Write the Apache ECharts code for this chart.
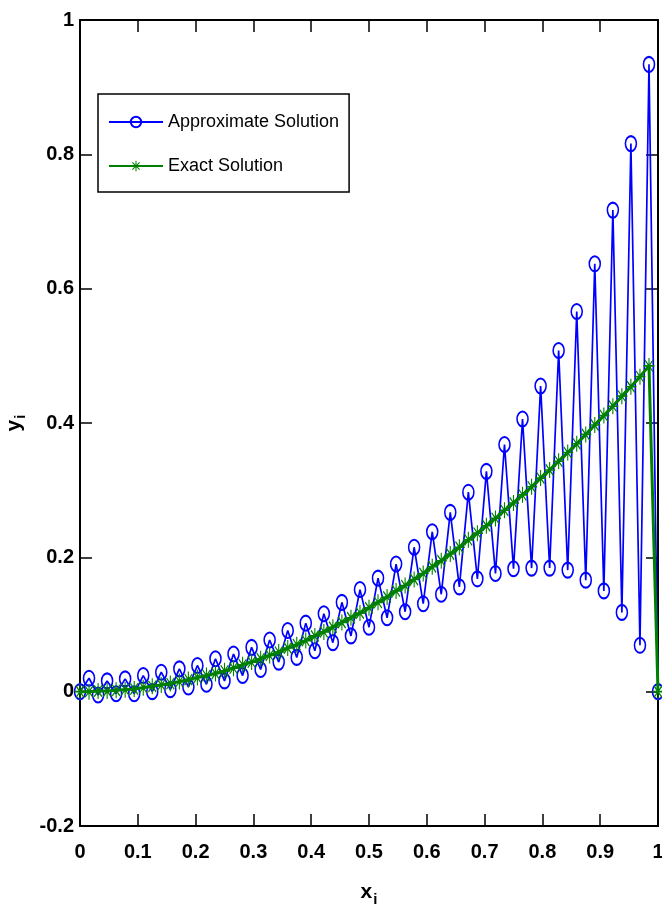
<!DOCTYPE html>
<html>
<head>
<meta charset="utf-8">
<script src="https://cdn.jsdelivr.net/npm/echarts@6/dist/echarts.min.js"></script>
<style>
html,body{margin:0;padding:0;background:#fff;}
#chart{width:662px;height:922px;}
</style>
</head>
<body>
<div id="chart"></div>
<script>
// Grid nodes x_i
const xNodes = [0, 0.0156, 0.0313, 0.0469, 0.0625, 0.0781, 0.0938, 0.1094, 0.125, 0.1406,
  0.1563, 0.1719, 0.1875, 0.2031, 0.2188, 0.2344, 0.25, 0.2656, 0.2813, 0.2969,
  0.3125, 0.3281, 0.3438, 0.3594, 0.375, 0.3906, 0.4063, 0.4219, 0.4375, 0.4531,
  0.4688, 0.4844, 0.5, 0.5156, 0.5313, 0.5469, 0.5625, 0.5781, 0.5938, 0.6094,
  0.625, 0.6406, 0.6563, 0.6719, 0.6875, 0.7031, 0.7188, 0.7344, 0.75, 0.7656,
  0.7813, 0.7969, 0.8125, 0.8281, 0.8438, 0.8594, 0.875, 0.8906, 0.9063, 0.9219,
  0.9375, 0.9531, 0.9688, 0.9844, 1];

// Approximate solution values
const approxValues = [0, 0.020, -0.005, 0.016, -0.003, 0.019, -0.003, 0.024, 0.000, 0.029,
  0.003, 0.034, 0.007, 0.039, 0.011, 0.049, 0.016, 0.056, 0.024, 0.066,
  0.033, 0.077, 0.044, 0.091, 0.051, 0.102, 0.061, 0.116, 0.073, 0.133,
  0.083, 0.152, 0.096, 0.169, 0.110, 0.190, 0.119, 0.215, 0.131, 0.238,
  0.145, 0.267, 0.156, 0.297, 0.168, 0.328, 0.176, 0.368, 0.183, 0.406,
  0.184, 0.455, 0.184, 0.508, 0.181, 0.566, 0.166, 0.637, 0.150, 0.717,
  0.118, 0.816, 0.069, 0.934, 0];

// Exact solution values
const exactValues = [0, 0.000, 0.001, 0.001, 0.002, 0.003, 0.004, 0.006, 0.008, 0.010,
  0.012, 0.015, 0.018, 0.021, 0.024, 0.027, 0.031, 0.035, 0.040, 0.044,
  0.049, 0.054, 0.059, 0.065, 0.070, 0.076, 0.083, 0.089, 0.096, 0.103,
  0.110, 0.117, 0.125, 0.133, 0.141, 0.150, 0.158, 0.167, 0.176, 0.186,
  0.195, 0.205, 0.215, 0.226, 0.236, 0.247, 0.258, 0.270, 0.281, 0.293,
  0.305, 0.318, 0.330, 0.343, 0.356, 0.369, 0.383, 0.397, 0.411, 0.425,
  0.440, 0.454, 0.469, 0.485, 0];

const xTicks = {min: 0, max: 1, interval: 0.1};
const yTicks = {min: -0.2, max: 1, interval: 0.2};
const seriesNames = ['Approximate Solution', 'Exact Solution'];

const FONT = '"Liberation Sans", Arial, sans-serif';

const asterisk = 'path://M9 0H11V20H9Z M0 9H20V11H0Z M2.3 3.7L3.7 2.3L17.7 16.3L16.3 17.7Z M16.3 2.3L17.7 3.7L3.7 17.7L2.3 16.3Z';

const approxData = xNodes.map((x, i) => [x, approxValues[i]]);
const exactData = xNodes.map((x, i) => [x, exactValues[i]]);

const axisLineStyle = {show: true, onZero: false, lineStyle: {color: '#000', width: 2}};
const tickStyle = {show: true, inside: true, length: 12, lineStyle: {color: '#000', width: 1.5}};
const labelStyle = {color: '#000', fontFamily: FONT, fontWeight: 'bold', fontSize: 20};

const nameStyle = {
  color: '#000', fontFamily: FONT, fontWeight: 'bold', fontSize: 21,
  rich: {
    a: {fontFamily: FONT, fontWeight: 'bold', fontSize: 21, color: '#000'},
    b: {fontFamily: FONT, fontWeight: 'bold', fontSize: 15, color: '#000', padding: [14, 0, 0, 1]}
  }
};

const chart = echarts.init(document.getElementById('chart'), null, {renderer: 'canvas'});
chart.setOption({
  backgroundColor: '#fff',
  animation: false,
  grid: {left: 80, right: 4, top: 20, bottom: 96, containLabel: false, outerBoundsMode: 'none'},
  legend: {
    left: 98, top: 94,
    orient: 'vertical',
    data: seriesNames,
    itemWidth: 54, itemHeight: 13, itemGap: 22,
    padding: [17, 10, 15, 10],
    borderColor: '#000', borderWidth: 1.5,
    backgroundColor: '#fff',
    textStyle: {color: '#000', fontFamily: FONT, fontSize: 18, lineHeight: 22}
  },
  xAxis: [{
    type: 'value', position: 'bottom',
    min: xTicks.min, max: xTicks.max, interval: xTicks.interval,
    axisLine: axisLineStyle, axisTick: tickStyle, splitLine: {show: false},
    axisLabel: Object.assign({margin: 16}, labelStyle),
    name: '{a|x}{b|i}', nameLocation: 'middle', nameGap: 52,
    nameTextStyle: nameStyle
  }, {
    type: 'value', position: 'top',
    min: xTicks.min, max: xTicks.max, interval: xTicks.interval,
    axisLine: axisLineStyle, axisTick: tickStyle, splitLine: {show: false},
    axisLabel: {show: false}
  }],
  yAxis: [{
    type: 'value', position: 'left',
    min: yTicks.min, max: yTicks.max, interval: yTicks.interval,
    axisLine: axisLineStyle, axisTick: tickStyle, splitLine: {show: false},
    axisLabel: Object.assign({margin: 6}, labelStyle),
    name: '{a|y}{b|i}', nameLocation: 'middle', nameGap: 46, nameRotate: 90,
    nameTextStyle: nameStyle
  }, {
    type: 'value', position: 'right',
    min: yTicks.min, max: yTicks.max, interval: yTicks.interval,
    axisLine: axisLineStyle, axisTick: tickStyle, splitLine: {show: false},
    axisLabel: {show: false}
  }],
  series: [{
    name: seriesNames[0], type: 'line', data: approxData,
    xAxisIndex: 0, yAxisIndex: 0,
    symbol: 'circle', symbolSize: [11, 15], showAllSymbol: true,
    lineStyle: {color: '#0000ff', width: 1.7},
    itemStyle: {color: 'rgba(255,255,255,0)', borderColor: '#0000ff', borderWidth: 1.8},
    z: 2
  }, {
    name: seriesNames[1], type: 'line', data: exactData,
    xAxisIndex: 0, yAxisIndex: 0,
    symbol: asterisk, symbolSize: [11, 16], showAllSymbol: true,
    lineStyle: {color: '#008000', width: 3},
    itemStyle: {color: '#008000', borderWidth: 0},
    z: 3
  }]
});
</script>
</body>
</html>
